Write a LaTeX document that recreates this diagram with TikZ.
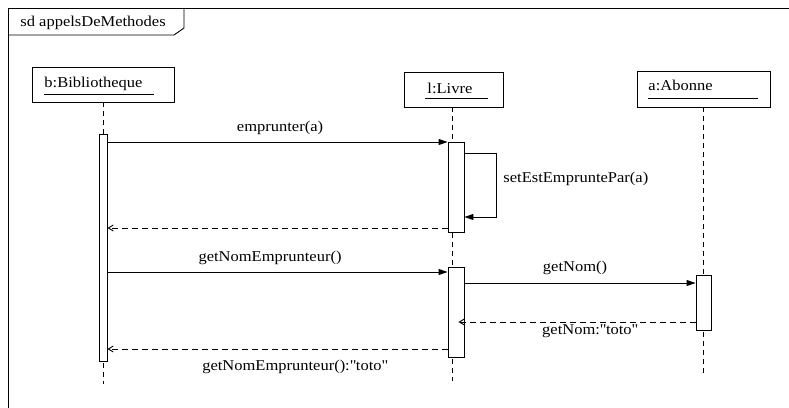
\documentclass[tikz,border=0pt]{standalone}
\usepackage{fontspec}
\setmainfont{Liberation Serif}[FakeStretch=1.1]
\usetikzlibrary{arrows.meta}
\begin{document}
\begin{tikzpicture}[x=1pt,y=-1pt,line width=0.9pt,
  lbl/.style={anchor=base,inner sep=0pt,font=\fontsize{15}{18}\selectfont},
  lblw/.style={anchor=base west,inner sep=0pt,font=\fontsize{15}{18}\selectfont},
  headbox/.style={draw,rectangle,inner sep=0pt},
  actbox/.style={draw,rectangle,fill=white,inner sep=0pt},
  lifeline/.style={dash pattern=on 5pt off 4pt},
  callmsg/.style={-{Triangle[length=9pt,width=6pt]}},
  retmsg/.style={dash pattern=on 6pt off 4pt,-{Straight Barb[length=5pt,width=6pt]}}
]
\useasboundingbox (0,0) rectangle (789,407);
\clip (0,0) rectangle (789,407);
\fill[white] (0,0) rectangle (789,407);
% frame
\draw (8,8) rectangle (800,420);
\draw (8,35) -- (174,35) -- (184,28) -- (184,8);
\node[lblw] (title) at (20,26) {sd appelsDeMethodes};
% headers
\node[headbox,minimum width=142pt,minimum height=35pt] (b) at (103,84.5) {};
\node[lblw] (btxt) at (44,87) {b:Bibliotheque};
\draw (44,94) -- (154,94);
\node[headbox,minimum width=99pt,minimum height=35pt] (l) at (453.5,89.5) {};
\node[lblw] (ltxt) at (427,93) {l:Livre};
\draw (425,98) -- (488,98);
\node[headbox,minimum width=133pt,minimum height=36pt] (a) at (703.5,89) {};
\node[lblw] (atxt) at (648,90) {a:Abonne};
\draw (648,98) -- (758,98);
% lifeline ends
\coordinate (bend) at (103,384);
\coordinate (lend) at (452,381);
\coordinate (aend) at (703,375);
\draw[lifeline] (b.south) -- (bend);
\draw[lifeline] (l.south -| lend) -- (lend);
\draw[lifeline] (a.south -| aend) -- (aend);
% activations
\node[actbox,minimum width=8pt,minimum height=227pt] (bact) at (103,247.5) {};
\node[actbox,minimum width=16pt,minimum height=90pt] (lact1) at (456,187) {};
\node[actbox,minimum width=16pt,minimum height=90pt] (lact2) at (456,312) {};
\node[actbox,minimum width=15pt,minimum height=55pt] (aact) at (703.5,302.5) {};
% messages
\draw[callmsg] (bact.east |- 0,142) -- (lact1.west |- 0,142);
\node[lbl] (m1) at (280,131) {emprunter(a)};
\draw[callmsg] (lact1.east |- 0,153) -- (496,153) -- (496,217) -- (lact1.east |- 0,217);
\node[lblw] (m2) at (503,182) {setEstEmpruntePar(a)};
\draw[retmsg] (lact1.west |- 0,228) -- (bact.east |- 0,228);
\draw[callmsg] (bact.east |- 0,272) -- (lact2.west |- 0,272);
\node[lbl] (m3) at (270,261) {getNomEmprunteur()};
\draw[callmsg] (lact2.east |- 0,283) -- (aact.west |- 0,283);
\node[lbl] (m4) at (575,271) {getNom()};
\draw[retmsg,shorten >=-6pt] (aact.west |- 0,322) -- (lact2.east |- 0,322);
\node[lbl] (m5) at (590,334) {getNom:\textquotedbl toto\textquotedbl};
\draw[retmsg] (lact2.west |- 0,349) -- (bact.east |- 0,349);
\node[lbl] (m6) at (295,370) {getNomEmprunteur():\textquotedbl toto\textquotedbl};
\end{tikzpicture}
\end{document}
